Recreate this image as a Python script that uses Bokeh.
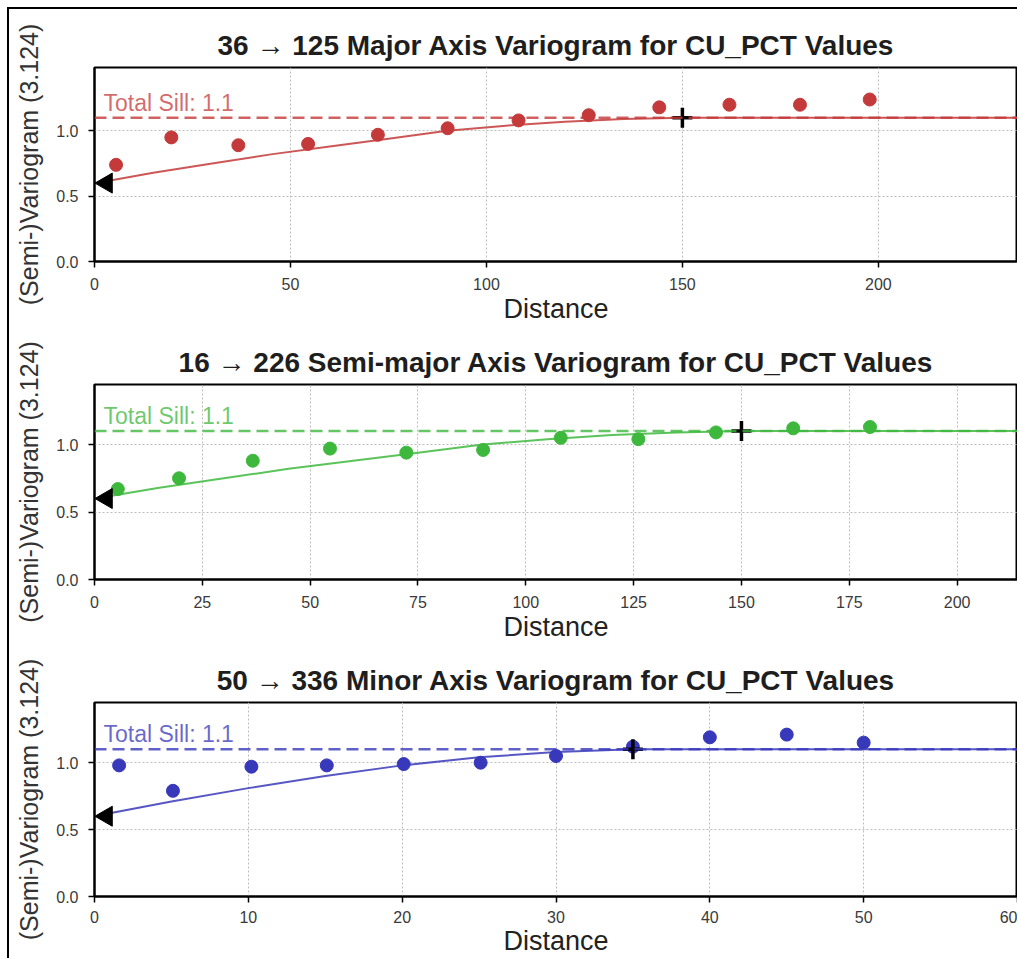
import math
from bokeh.plotting import figure
from bokeh.models import FixedTicker, Range1d, Label, Span, PrintfTickFormatter
from bokeh.layouts import column
from bokeh.embed import file_html
from bokeh.resources import INLINE

# ---------------- data ----------------
titles = [
    "36 \u2192 125 Major Axis Variogram for CU_PCT Values",
    "16 \u2192 226 Semi-major Axis Variogram for CU_PCT Values",
    "50 \u2192 336 Minor Axis Variogram for CU_PCT Values",
]
sill = 1.1
nugget = 0.6
ranges = [150, 150, 35]

major_lag = [5.5, 19.6, 36.7, 54.5, 72.3, 90.1, 108.2, 126.1, 144.1, 162.0, 180.0, 197.8]
major_gamma = [0.74, 0.95, 0.89, 0.90, 0.97, 1.02, 1.08, 1.12, 1.18, 1.20, 1.20, 1.24]

semimajor_lag = [5.4, 19.6, 36.7, 54.6, 72.3, 90.1, 108.1, 126.1, 144.1, 162.0, 179.8]
semimajor_gamma = [0.67, 0.75, 0.88, 0.97, 0.94, 0.96, 1.05, 1.04, 1.09, 1.12, 1.13]

minor_lag = [1.6, 5.1, 10.2, 15.1, 20.1, 25.1, 30.0, 35.0, 40.0, 45.0, 50.0]
minor_gamma = [0.98, 0.79, 0.97, 0.98, 0.99, 1.00, 1.05, 1.12, 1.19, 1.21, 1.15]

# fitted model curves
major_model_x = [4, 15, 30, 45, 60, 75, 90, 105, 120, 135, 150, 236]
major_model_y = [0.62, 0.68, 0.75, 0.82, 0.88, 0.94, 1.00, 1.04, 1.07, 1.09, 1.10, 1.10]
semimajor_model_x = [4, 15, 30, 45, 60, 75, 90, 105, 120, 135, 150, 214]
semimajor_model_y = [0.62, 0.68, 0.75, 0.82, 0.88, 0.94, 1.00, 1.04, 1.07, 1.09, 1.10, 1.10]
minor_model_x = [0.9, 5, 10, 15, 20, 25, 30, 35, 60]
minor_model_y = [0.62, 0.71, 0.81, 0.90, 0.98, 1.04, 1.08, 1.10, 1.10]

x_ticks = [[0, 50, 100, 150, 200],
           [0, 25, 50, 75, 100, 125, 150, 175, 200],
           [0, 10, 20, 30, 40, 50, 60]]
y_ticks = [0.0, 0.5, 1.0]
x_ends = [235.5, 214, 60]
y_ends = [1.485, 1.445, 1.45]
colors = ["#c43a3a", "#3db83d", "#3838bb"]

FONT = "Liberation Sans"


def make_panel(i, lags, gam, mx, my, height, last=False):
    xend = x_ends[i]
    c = colors[i]
    p = figure(width=1008, height=height,
               x_range=Range1d(0, xend), y_range=Range1d(0, y_ends[i]),
               output_backend="svg", toolbar_location=None,
               min_border_left=85, min_border_right=0,
               min_border_top=58, min_border_bottom=0,
               title=titles[i])
    p.title.align = "center"
    p.title.text_font = FONT
    p.title.text_font_size = "28px"
    p.title.text_font_style = "bold"
    p.title.text_color = "#1e1e1e"
    p.title.standoff = 13

    p.background_fill_color = "white"
    p.border_fill_color = "white"
    p.outline_line_color = "black"
    p.outline_line_width = 2
    p.outline_line_alpha = 1.0

    for ax in (p.xaxis[0], p.yaxis[0]):
        ax.axis_line_color = "black"
        ax.axis_line_width = 2
        ax.major_tick_line_color = "black"
        ax.major_tick_line_width = 1.5
        ax.major_tick_out = 6
        ax.major_tick_in = 0
        ax.minor_tick_line_color = None
        ax.major_label_text_font = FONT
        ax.major_label_text_font_size = "16px"
        ax.major_label_text_color = "#3a3a3a"
        ax.axis_label_text_font = FONT
        ax.axis_label_text_font_style = "normal"

    p.xaxis.ticker = FixedTicker(ticks=x_ticks[i])
    p.yaxis.ticker = FixedTicker(ticks=y_ticks)
    p.yaxis.formatter = PrintfTickFormatter(format="%.1f")
    p.xaxis.axis_label = "Distance"
    p.xaxis.axis_label_text_font_size = "27px"
    p.xaxis.axis_label_text_color = "#222222"
    p.xaxis.major_label_standoff = 8 if last else 10
    p.xaxis.axis_label_standoff = 0 if last else 1
    p.yaxis.axis_label = "(Semi-)Variogram (3.124)"
    p.yaxis.axis_label_text_font_size = "25px"
    p.yaxis.axis_label_text_color = "#333333"
    p.yaxis.major_label_standoff = 10
    p.yaxis.axis_label_standoff = 10

    for g in (p.xgrid[0], p.ygrid[0]):
        g.grid_line_color = "#bcbcbc"
        g.grid_line_dash = "2 2"
        g.grid_line_width = 1
    p.xgrid.ticker = FixedTicker(ticks=x_ticks[i])
    p.ygrid.ticker = FixedTicker(ticks=y_ticks)

    p.add_layout(Span(location=sill, dimension="width", line_color=c,
                      line_alpha=0.8, line_width=2.5, line_dash="12 6"))
    p.add_layout(Label(x=0, y=sill, x_offset=9, y_offset=15,
                       text="Total Sill: %s" % sill, text_font=FONT,
                       text_font_size="23px", text_color=c, text_alpha=0.75,
                       text_baseline="alphabetic"))
    p.line(mx, my, line_color=c, line_width=2, line_alpha=0.85)
    p.scatter(lags, gam, size=13, color=c)
    p.scatter([0.013 * xend], [nugget], marker="triangle", angle=math.pi / 2,
              size=20, color="black")
    p.scatter([ranges[i]], [sill], marker="cross", size=20, line_width=3.5,
              color="black")
    return p


p1 = make_panel(0, major_lag, major_gamma, major_model_x, major_model_y, 317)
p2 = make_panel(1, semimajor_lag, semimajor_gamma, semimajor_model_x, semimajor_model_y, 318)
p3 = make_panel(2, minor_lag, minor_gamma, minor_model_x, minor_model_y, 314, last=True)

layout = column(p1, p2, p3, spacing=0, margin=(7, 0, 0, 7),
                styles={"border-left": "2px solid black", "border-top": "2px solid black"})

open("out.html", "w").write(file_html(layout, INLINE))
